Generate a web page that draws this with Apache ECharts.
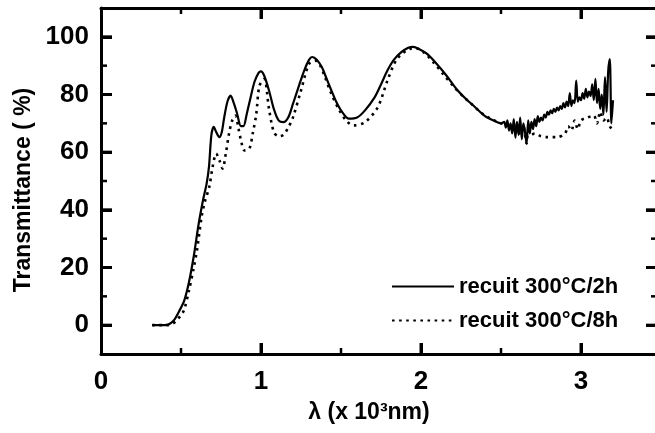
<!DOCTYPE html>
<html>
<head>
<meta charset="utf-8">
<script src="https://cdn.jsdelivr.net/npm/echarts@6/dist/echarts.min.js"></script>
<style>html,body{margin:0;padding:0;background:#fff}#c{width:655px;height:433px}</style>
</head>
<body>
<div id="c"></div>
<script>
// ---- data (λ in 10^3 nm, transmittance in %) ----
const seriesNames = ['recuit 300°C/2h', 'recuit 300°C/8h'];
const lam2h = [0.32,0.36,0.40,0.43,0.46,0.49,0.52,0.55,0.58,0.61,0.64,0.66,0.675,0.69,0.705,0.72,0.74,0.755,0.77,0.79,0.81,0.83,0.85,0.875,0.89,0.91,0.935,0.96,0.985,1.0,1.02,1.05,1.08,1.11,1.14,1.17,1.20,1.24,1.27,1.30,1.32,1.35,1.38,1.41,1.44,1.47,1.50,1.55,1.60,1.65,1.71,1.75,1.79,1.83,1.875,1.92,1.95,1.99,2.04,2.10,2.16,2.22,2.28,2.34,2.40,2.46,2.50,
  2.52,2.53,2.54,2.55,2.56,2.57,2.58,2.59,2.60,2.61,2.62,2.63,2.64,2.65,2.66,2.67,2.68,2.69,2.70,2.71,2.72,2.73,2.74,2.75,2.76,2.77,2.78,2.79,2.80,2.81,2.82,2.83,2.84,2.85,2.86,2.87,2.88,2.89,2.90,2.91,2.92,2.93,2.94,2.95,2.96,2.97,2.98,2.99,3.00,3.01,3.02,3.03,3.04,3.05,3.06,3.07,3.08,3.09,3.10,3.11,3.12,3.13,3.14,3.15,3.16,3.17,3.18,3.19,3.20];
const t2h = [0,0,0,0.5,2,5,8.5,15,24,35,44,49,55,66,68.8,67,65.2,67,72,77.5,79.6,77,73.5,69,69,73,79,84.5,87.5,88,86.5,81.4,75,71,70.4,72,76.8,83.5,88.3,92,93,92,89.5,85.5,81.4,77.5,74.5,71.6,72,74.5,79,83.5,88.3,92,94.6,96.2,96.5,95.7,94,90.5,86.5,82,78.5,75.5,72.5,70.8,70,
  70.5,68.5,71,67.5,70,66.5,71.5,65,70.5,66,72,64.5,70,67,63,71,66.5,70.5,68,71.5,69,72.5,70.5,72,71,73,72,74,73,74.5,73.5,75,74,75.5,74.5,76,75,77,75.5,77.5,76,80.5,76,78,77,84.8,77.5,79,78,80.5,78.5,82,79,81,79.5,83.5,78,85.4,77,82,75,80,73,86,74,88,92.3,70,78];
const lam8h = [0.32,0.36,0.40,0.44,0.47,0.50,0.52,0.55,0.58,0.60,0.63,0.65,0.677,0.698,0.72,0.74,0.76,0.78,0.80,0.82,0.84,0.86,0.875,0.896,0.927,0.948,0.97,0.99,1.02,1.05,1.08,1.11,1.14,1.17,1.20,1.25,1.30,1.34,1.37,1.40,1.44,1.49,1.54,1.58,1.65,1.73,1.79,1.85,1.93,1.97,2.02,2.08,2.14,2.20,2.26,2.32,2.38,2.44,2.50,2.56,2.60,2.62,2.64,2.66,2.67,2.69,2.71,2.75,2.79,2.85,2.90,2.92,2.94,2.96,2.98,3.00,3.04,3.08,3.10,3.12,3.14,3.16,3.18,3.20];
const t8h = [0,0,0,0.3,1.5,3.5,5.4,12,20,26,38,43,48,55,59.5,57.2,54.3,59.5,66.4,71,72.7,68,64.1,60.6,61.2,66.4,73,83,85.4,75,67,65.5,66,68.5,72.1,81.4,90.6,91.7,90,86,80.2,74.5,70.5,69.3,70.4,75.6,84.8,92.3,95.8,96,94.5,91,87,83,79.5,76.5,73.5,71.5,70,69,68,66,69,63,67.5,66,66.5,65.5,65.2,65.2,66.5,69,67.5,71,68,71,72,72.7,70,74,71,72,69,67.5];
const xMajor = [0, 1, 2, 3];
const xMinor = [0.5, 1.5, 2.5];
const yMajor = [0, 20, 40, 60, 80, 100];
const yMinor = [10, 30, 50, 70, 90];
const xName = 'λ (x 10³nm)';
const yName = 'Transmittance ( %)';
const X_MIN = 0, X_MAX = 3.4625, Y_MIN = -10, Y_MAX = 110;

const pairs = (xs, ys) => xs.map((x, i) => [x, ys[i]]);
const FONT = '"Liberation Sans", Arial, sans-serif';
const black = '#000';
const majorTick = (vals, len) => ({ show: true, inside: true, length: len, customValues: vals, lineStyle: { color: black, width: 3 } });

const chart = echarts.init(document.getElementById('c'));
chart.setOption({
  animation: false,
  grid: { left: 101, right: 0, top: 8, bottom: 79 },
  xAxis: [
    { type: 'value', position: 'bottom', min: X_MIN, max: X_MAX,
      axisLine: { show: true, onZero: false, lineStyle: { color: black, width: 3 } },
      splitLine: { show: false }, axisTick: majorTick(xMajor, 11),
      axisLabel: { show: true, customValues: xMajor, margin: 15, color: black, fontFamily: FONT, fontWeight: 'bold', fontSize: 26 },
      name: xName, nameLocation: 'middle', nameGap: 47,
      nameTextStyle: { color: black, fontFamily: FONT, fontWeight: 'bold', fontSize: 23, padding: [0, 18, 0, 0] } },
    { type: 'value', position: 'top', min: X_MIN, max: X_MAX,
      axisLine: { show: true, onZero: false, lineStyle: { color: black, width: 3 } },
      splitLine: { show: false }, axisTick: majorTick(xMajor, 11), axisLabel: { show: false } }
  ],
  yAxis: [
    { type: 'value', position: 'left', min: Y_MIN, max: Y_MAX,
      axisLine: { show: true, onZero: false, lineStyle: { color: black, width: 3 } },
      splitLine: { show: false }, axisTick: majorTick(yMajor, 11),
      axisLabel: { show: true, customValues: yMajor, margin: 12, color: black, fontFamily: FONT, fontWeight: 'bold', fontSize: 26 },
      name: yName, nameLocation: 'middle', nameGap: 63, nameRotate: 90,
      nameTextStyle: { color: black, fontFamily: FONT, fontWeight: 'bold', fontSize: 23, padding: [0, 18, 0, 0] } },
    { type: 'value', position: 'right', min: Y_MIN, max: Y_MAX,
      axisLine: { show: false, onZero: false }, splitLine: { show: false }, axisTick: majorTick(yMajor, 9), axisLabel: { show: false } }
  ],
  legend: {
    orient: 'vertical', left: 391, top: 274, padding: 0, itemWidth: 62, itemHeight: 4, itemGap: 9,
    itemStyle: { opacity: 0 },
    textStyle: { color: black, fontFamily: FONT, fontWeight: 'bold', fontSize: 22, lineHeight: 25 },
    data: seriesNames
  },
  series: [
    { name: seriesNames[0], type: 'line', xAxisIndex: 0, yAxisIndex: 0, data: pairs(lam2h, t2h),
      showSymbol: false, symbol: 'none', smooth: 0.3, lineStyle: { color: black, width: 2.2 }, itemStyle: { color: black } },
    { name: seriesNames[1], type: 'line', xAxisIndex: 0, yAxisIndex: 0, data: pairs(lam8h, t8h),
      showSymbol: false, symbol: 'none', smooth: 0.3, lineStyle: { color: black, width: 2.6, type: [2.6, 4.5] }, itemStyle: { color: black } },
    { // inward tick marks on all four sides, positioned through the axis scales
      name: 'ticks', type: 'custom', xAxisIndex: 0, yAxisIndex: 0, silent: true, clip: false, z: 10,
      data: [[X_MIN, Y_MIN]],
      renderItem: function (params, api) {
        const children = [];
        const seg = (a, b, w) => children.push({ type: 'line', shape: { x1: a[0], y1: a[1], x2: b[0], y2: b[1] }, style: { stroke: black, lineWidth: w } });
        const xt = (vals, len, w) => vals.forEach(v => {
          const b = api.coord([v, Y_MIN]), t = api.coord([v, Y_MAX]);
          seg(b, [b[0], b[1] - len], w); seg(t, [t[0], t[1] + len], w);
        });
        const yt = (vals, lenL, lenR, w) => vals.forEach(v => {
          const l = api.coord([X_MIN, v]), r = api.coord([X_MAX, v]);
          seg(l, [l[0] + lenL, l[1]], w); seg(r, [r[0] - lenR, r[1]], w);
        });
        xt(xMajor.filter(v => v > X_MIN), 11, 3);
        xt(xMinor, 6, 2.5);
        yt(yMajor, 11, 9, 3);
        yt(yMinor, 6, 4, 2.5);
        return { type: 'group', children: children };
      } }
  ]
});
</script>
</body>
</html>
